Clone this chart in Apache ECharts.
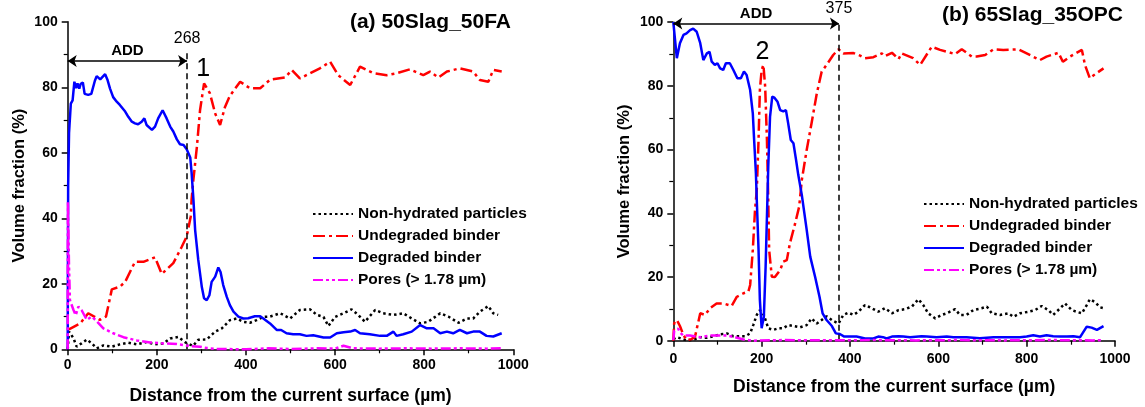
<!DOCTYPE html>
<html>
<head>
<meta charset="utf-8">
<script src="https://cdn.jsdelivr.net/npm/echarts@6/dist/echarts.min.js"></script>
<style>
  html, body { margin: 0; padding: 0; background: #fff }
  #chart { width: 1145px; height: 407px }
</style>
</head>
<body>
<div id="chart"></div>
<script>
// series names and tick labels
const seriesNames = ['Non-hydrated particles', 'Undegraded binder', 'Degraded binder', 'Pores (> 1.78 µm)']
const xTicks = [0, 200, 400, 600, 800, 1000]
const yTicks = [0, 20, 40, 60, 80, 100]

// (a) 50Slag_50FA  [distance µm, volume %]
const aNonHydrated = [[0,0],[3,5.4],[13,3.4],[20,0.8],[31,1.8],[43,3],[54,1.8],[65,0.3],[80,1.2],[99,0.8],[117,1.5],[136,2],[155,1.5],[177,2.2],[196,1.5],[215,1.8],[230,3.3],[248,3.8],[263,2.2],[281,1],[293,2.9],[312,3],[331,5.4],[346,6.4],[364,8.9],[379,9.4],[394,8.4],[409,8.1],[424,8.9],[439,9.9],[454,10],[477,11],[499,9.4],[521,12],[544,12.2],[559,10.5],[574,9.9],[585,7.1],[600,9.9],[619,11],[637,12.2],[652,10.5],[667,8.4],[690,12],[708,11],[731,10.5],[753,11],[772,9.4],[791,7.9],[809,8.4],[836,11],[854,10],[877,8.1],[896,9.4],[910,9.4],[925,11.5],[944,13.2],[955,11],[966,10.5]]
const aUndegraded = [[0,5.9],[7,6.4],[28,7.9],[46,11],[72,9],[86,10],[99,18.3],[117,19.1],[129,20.6],[151,26.7],[170,26.7],[196,28.1],[211,23],[237,26.3],[256,31.3],[267,34.4],[276,40.5],[278,45.6],[282,51.7],[290,61.9],[297,73],[306,81.2],[319,78.2],[331,72],[342,68.5],[353,74],[364,77.4],[387,81.7],[409,79.7],[432,79.7],[454,82.3],[488,83],[503,85.3],[521,82.7],[540,84],[566,85.8],[589,87.8],[607,83.7],[634,80.7],[656,86.3],[686,84.3],[716,83.7],[738,84.3],[768,85.5],[798,83.7],[813,84.8],[832,83],[851,84.8],[880,85.8],[910,84.8],[925,82.2],[944,81.7],[955,85.3],[974,84.8]]
const aDegraded = [[0,0],[1,50],[3,66],[7,75],[11,76],[15,81.7],[19,79.7],[22,81.2],[26,79.6],[29,81],[34,81.5],[38,78],[46,77.7],[53,78],[61,82],[65,83.4],[73,82.4],[76,82],[84,84],[89,82.4],[95,79.6],[102,77],[110,75.6],[117,74.6],[121,74.6],[129,72.6],[136,71],[144,69.5],[151,69],[158,68.7],[166,69.5],[172,70.5],[177,68.5],[189,67],[196,68],[203,70.5],[213,73],[222,70.5],[230,68],[237,66.5],[245,64.1],[252,62.6],[260,62.4],[267,61.1],[275,58.6],[278,54],[282,46],[286,36.4],[293,27.3],[301,19],[306,15.6],[312,15],[318,16.5],[323,20.6],[331,22.2],[338,25],[343,23.6],[349,19.6],[357,16],[364,13.5],[372,11.5],[383,10],[394,9.4],[405,9.5],[420,10.1],[432,10.1],[439,9.4],[454,7.9],[469,5.9],[479,5.9],[491,4.9],[506,4.6],[521,4.6],[536,4.1],[551,4.3],[574,3.6],[589,3.6],[604,4.9],[619,5.2],[634,5.4],[645,5.9],[656,4.9],[678,4.6],[701,4.1],[716,4.1],[731,5.4],[738,4.1],[753,4.6],[772,5.4],[791,7.4],[806,6.4],[821,6.4],[836,4.9],[851,5.4],[865,4.9],[880,5.9],[896,4.9],[910,5.4],[925,5.4],[940,4.1],[955,3.9],[974,4.9]]
const aPores = [[0,0],[0.5,45],[3,25],[5,15],[13,12],[18,10.4],[24,13],[31,12],[43,9],[54,10],[65,8.6],[80,6.4],[102,4.9],[125,3.7],[155,2.7],[185,2.1],[215,1.8],[245,1.6],[275,1],[297,0.8],[312,0.4],[334,0.1],[400,0],[450,0.3],[500,0.1],[560,0.3],[600,0.2],[619,1.1],[640,0.3],[700,0.2],[760,0.3],[820,0.2],[880,0.3],[940,0.2],[974,0.3]]

// (b) 65Slag_35OPC
const bNonHydrated = [[0,0.5],[8,1.1],[19,0.6],[30,0.1],[45,0.3],[61,1.1],[76,0.9],[91,1.4],[106,2],[121,2.3],[136,1.4],[151,1.4],[163,1.4],[174,2.3],[181,4.9],[189,8.1],[196,9.6],[205,8.1],[215,3.9],[226,3.4],[238,3.9],[249,3.9],[260,4.9],[272,4.6],[287,4.2],[302,4.9],[313,7],[325,5.4],[336,6.5],[347,7.7],[362,6.2],[374,5.4],[385,8.1],[396,8.8],[408,8.1],[419,9.1],[434,11.2],[445,10.5],[464,9.1],[479,10.2],[495,8.6],[510,9.6],[525,9.9],[540,10.7],[555,13],[566,11.2],[577,8.6],[593,7],[608,8.1],[619,8.6],[638,9.9],[649,8.1],[664,8.1],[679,9.6],[698,10.2],[710,10.7],[721,8.6],[740,8.1],[759,8.6],[770,7.5],[785,8.6],[804,9.1],[819,9.6],[834,10.9],[849,9.6],[860,8.1],[876,10.2],[887,11.7],[902,9.6],[913,9.1],[925,8.6],[936,11.2],[943,13],[955,12.1],[966,10.5],[974,10.2]]
const bUndegraded = [[0,0],[2,5.5],[8,6.5],[15,4.6],[23,1.8],[30,0.2],[41,0.5],[49,1.2],[61,8.6],[72,8.1],[83,10.2],[98,11.7],[113,11.7],[132,10.9],[144,13.8],[159,14.9],[170,15.4],[174,17.5],[180,28.5],[185,41],[189,47.3],[193,63],[196,78.7],[200,85],[204,86.6],[208,79.7],[212,63],[215,44.2],[217,28.5],[223,20.1],[230,20],[242,22.2],[249,24.8],[257,25.3],[264,30.6],[276,36.9],[285,42.1],[291,50.5],[302,59.9],[313,68.3],[325,77.7],[336,84.5],[347,86.6],[362,89.7],[374,91.5],[385,90.2],[408,90.3],[423,89.5],[434,88.7],[453,89],[472,90.2],[479,89.3],[495,90.4],[510,88.4],[517,90.2],[543,88.7],[559,86.6],[585,92.3],[604,91.3],[638,90],[653,91.5],[676,89.2],[687,89.2],[706,89.7],[725,91.5],[747,91.3],[781,91.5],[800,90.2],[830,88.1],[845,89.2],[872,90.4],[882,87.6],[898,89.2],[925,91.3],[932,86.6],[943,82.4],[955,83.7],[974,85.5]]
const bDegraded = [[0,100],[8,88.7],[15,93.4],[23,96],[30,96.5],[38,97.5],[45,98],[53,97],[61,93.4],[68,88.1],[76,90.2],[82,90.7],[87,87.6],[94,86.6],[100,87.1],[106,85.5],[113,85],[119,87.1],[128,87.1],[136,85],[145,82.4],[153,82.4],[160,84.5],[166,83.4],[174,78.7],[180,71.4],[183,63],[187,52.6],[189,44.2],[193,28.5],[196,12.8],[200,3.9],[205,7.5],[209,23.2],[212,38.9],[215,54.6],[219,70.3],[224,76.6],[229,76.3],[236,75],[242,72.4],[249,72],[255,72.4],[260,68.3],[266,63],[272,62],[278,56.7],[283,52],[291,45.7],[302,34.8],[310,26.4],[321,20.1],[331,13.8],[338,8.6],[347,6.5],[359,4.6],[368,2.3],[377,2.1],[387,1.3],[400,1.3],[415,1.3],[434,0.7],[453,0.7],[464,1.3],[475,1.1],[483,0.7],[495,1.3],[510,1.4],[521,1.3],[536,1.1],[562,1.4],[574,1.3],[596,1.1],[619,1.3],[634,1.1],[664,1.1],[694,0.8],[725,1.1],[755,1.1],[785,1.1],[800,1.3],[815,1.7],[830,1.3],[845,1.7],[860,1.4],[876,1.3],[891,1.3],[906,1.4],[921,1.1],[936,4.4],[947,4.1],[959,3.4],[974,4.6]]
const bPores = [[0,0.2],[2,3.1],[6,3.6],[11,3.8],[15,2.6],[23,1.6],[38,1.6],[61,1.1],[83,1.6],[106,1.6],[121,1.6],[140,1.1],[159,0.4],[180,0],[250,0.2],[350,0.1],[450,0.2],[550,0.1],[650,0.2],[750,0.1],[850,0.2],[950,0.1],[974,0.2]]

// annotations: ADD arrow end and height, dashed line top, region tag
const aMarks = { add: 268, addY: 88, lineTop: 91.4, tag: '1', tagAt: [304, 85.6] }
const bMarks = { add: 375, addY: 99.6, lineTop: 100, tag: '2', tagAt: [202, 90.5] }

const font = 'Liberation Sans, Arial, sans-serif'
const styles = [
  { color: '#000000', type: [2.5, 3] },
  { color: '#ff0000', type: [12, 4, 3, 4] },
  { color: '#0000ff', type: 'solid' },
  { color: '#ff00ff', type: [10, 3, 3, 3, 3, 3] }
]

function axisPair(i, labelMargin, xNameGap) {
  const common = {
    gridIndex: i,
    min: 0,
    nameLocation: 'middle',
    nameTextStyle: { fontFamily: font, fontWeight: 'bold', fontSize: 17.5, color: '#000' },
    axisLine: { lineStyle: { color: '#000', width: 1.5 } },
    axisTick: { length: 6, lineStyle: { color: '#000', width: 1.5 } },
    minorTick: { show: true, splitNumber: 2, length: 4, lineStyle: { color: '#000', width: 1.2 } },
    splitLine: { show: false },
    axisLabel: { fontFamily: font, fontWeight: 'bold', fontSize: 14, color: '#000', margin: labelMargin,
      formatter: v => String(v) }
  }
  return {
    x: Object.assign({}, common, {
      type: 'value', max: xTicks[xTicks.length - 1], interval: xTicks[1] - xTicks[0],
      name: 'Distance from the current surface (µm)', nameGap: xNameGap
    }),
    y: Object.assign({}, common, {
      type: 'value', max: yTicks[yTicks.length - 1], interval: yTicks[1] - yTicks[0],
      name: 'Volume fraction (%)', nameGap: 40,
      nameTextStyle: Object.assign({}, common.nameTextStyle, { fontSize: 16.5 }),
      axisLabel: Object.assign({}, common.axisLabel, { margin: 10 })
    })
  }
}

function panelSeries(i, datasets, m, addDist, tagDist) {
  return datasets.map((d, k) => {
    const s = {
      name: seriesNames[k],
      type: 'line',
      xAxisIndex: i,
      yAxisIndex: i,
      data: d,
      showSymbol: false,
      symbol: 'none',
      clip: false,
      z: 2 + k,
      lineStyle: { color: styles[k].color, type: styles[k].type, width: 2.5 },
      itemStyle: { color: styles[k].color }
    }
    if (k === 0) {
      s.markLine = {
        silent: true,
        symbol: ['arrow', 'arrow'],
        symbolSize: 9,
        lineStyle: { color: '#000', type: 'solid', width: 1.5 },
        itemStyle: { color: '#000' },
        label: { show: true, position: 'insideMiddleTop', distance: addDist, formatter: 'ADD',
          fontFamily: font, fontWeight: 'bold', fontSize: 15, color: '#000' },
        data: [[{ coord: [0, m.addY] }, { coord: [m.add, m.addY] }]]
      }
    }
    if (k === 1) {
      s.markLine = {
        silent: true,
        symbol: 'none',
        lineStyle: { color: '#000', type: [6, 4], width: 1.5 },
        label: { show: true, position: 'end', distance: tagDist, formatter: String(m.add),
          fontFamily: font, fontSize: 16, color: '#000' },
        data: [[{ coord: [m.add, 0] }, { coord: [m.add, m.lineTop] }]]
      }
    }
    if (k === 2) {
      s.markPoint = {
        silent: true,
        symbol: 'rect',
        symbolSize: 1,
        itemStyle: { color: 'transparent' },
        label: { show: true, position: 'inside', formatter: m.tag, fontFamily: font, fontSize: 25, color: '#000' },
        data: [{ coord: m.tagAt }]
      }
    }
    return s
  })
}

const axA = axisPair(0, 9, 38)
const axB = axisPair(1, 11, 37)

const legendBase = {
  orient: 'vertical',
  padding: 0,
  itemWidth: 40,
  itemHeight: 16,
  itemGap: 6,
  itemStyle: { opacity: 0 },
  textStyle: { fontFamily: font, fontWeight: 'bold', fontSize: 15.5, color: '#000' },
  data: seriesNames
}

const chart = echarts.init(document.getElementById('chart'))
chart.setOption({
  animation: false,
  backgroundColor: '#fff',
  title: [
    { text: '(a) 50Slag_50FA', right: 634, top: 12, padding: 0,
      textStyle: { fontFamily: font, fontWeight: 'bold', fontSize: 21, color: '#000' } },
    { text: '(b) 65Slag_35OPC', right: 22, top: 5, padding: 0,
      textStyle: { fontFamily: font, fontWeight: 'bold', fontSize: 21, color: '#000' } }
  ],
  legend: [
    Object.assign({}, legendBase, { left: 312, top: 206 }),
    Object.assign({}, legendBase, { left: 923, top: 196 })
  ],
  grid: [
    { left: 67.7, top: 21.8, width: 445.6, height: 327.5, outerBoundsMode: 'none' },
    { left: 673.3, top: 22.2, width: 441.7, height: 318.5, outerBoundsMode: 'none' }
  ],
  xAxis: [axA.x, axB.x],
  yAxis: [axA.y, axB.y],
  series: [
    ...panelSeries(0, [aNonHydrated, aUndegraded, aDegraded, aPores], aMarks, 3, 3),
    ...panelSeries(1, [bNonHydrated, bUndegraded, bDegraded, bPores], bMarks, 2, 6)
  ]
})
</script>
</body>
</html>
